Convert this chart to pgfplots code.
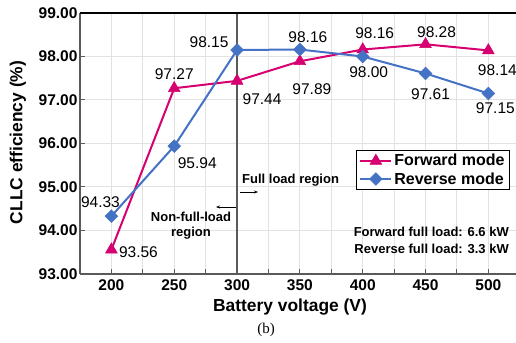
\documentclass[border=0pt]{standalone}
\usepackage{fontspec}
\setmainfont{Liberation Sans}
\newfontfamily\seriffont{Liberation Serif}
\usepackage{pgfplots}
\pgfplotsset{compat=1.18}
\usetikzlibrary{arrows.meta}

\definecolor{fwd}{RGB}{214,0,112}
\definecolor{rev}{RGB}{68,114,196}
\definecolor{gridgray}{RGB}{226,226,226}
\definecolor{spine}{RGB}{90,90,90}

\newcommand{\ticksize}{\fontsize{15.5bp}{18bp}\selectfont}
\newcommand{\notesize}{\fontsize{13bp}{15bp}\selectfont}

\begin{document}
\begin{tikzpicture}
\begin{axis}[
  at={(80bp,69bp)}, anchor=south west,
  scale only axis, width=436bp, height=261bp,
  xmin=175, xmax=522, ymin=93, ymax=99,
  axis x line*=bottom, axis y line*=left,
  axis line style={spine, line width=1.2bp, -},
  xtick={200,250,...,500}, minor xtick={225,275,...,475},
  ytick={93,94,...,99},
  grid=both,
  grid style={gridgray, line width=1bp},
  minor grid style={gridgray, line width=1bp},
  tick align=inside, major tick length=5bp, minor tick length=5bp,
  tick style={spine, line width=1bp},
  /pgf/number format/assume math mode=true,
  ticklabel style={font=\ticksize\bfseries},
  yticklabel style={/pgf/number format/fixed, /pgf/number format/fixed zerofill,
    /pgf/number format/precision=2, xshift=1bp},
  xticklabel style={/pgf/number format/1000 sep={}, yshift=-2bp},
  legend style={at={(axis description cs:0.9862,0.4751)}, anchor=north east,
    draw=black, line width=0.8bp, fill=white,
    font=\fontsize{16bp}{19bp}\selectfont\bfseries,
    inner xsep=3bp, inner ysep=2bp, row sep=1bp,
    cells={anchor=west}},
  legend image code/.code={\draw[mark repeat=2,mark phase=2,#1]
    plot coordinates {(0bp,0bp) (15.5bp,0bp) (31bp,0bp)};},
  clip=false,
]
% full-load boundary
\draw[spine, line width=1.6bp] (axis cs:300,93) -- (axis cs:300,99);
% top frame line
\draw[black, line width=1.2bp] (rel axis cs:0,1) -- (rel axis cs:1,1);

\addplot[color=fwd, line width=2bp, mark=triangle*, mark size=6.8bp,
  mark options={line width=0.5bp}]
  coordinates {(200,93.56) (250,97.27) (300,97.44) (350,97.89) (400,98.16) (450,98.28) (500,98.14)};
\addlegendentry{Forward mode}
\addplot[color=rev, line width=2bp, mark=square*, mark size=4.5bp,
  mark options={rotate=45, line width=0.5bp}]
  coordinates {(200,94.33) (250,95.94) (300,98.15) (350,98.16) (400,98.00) (450,97.61) (500,97.15)};
\addlegendentry{Reverse mode}

% value labels, forward mode
\begin{scope}[every node/.style={font=\ticksize, inner sep=0pt}]
\node[xshift=27bp, yshift=-3bp]   at (axis cs:200,93.56) {93.56};
\node[xshift=0bp, yshift=14bp]    at (axis cs:250,97.27) {97.27};
\node[xshift=25bp, yshift=-18bp]  at (axis cs:300,97.44) {97.44};
\node[xshift=12bp, yshift=-28bp]  at (axis cs:350,97.89) {97.89};
\node[xshift=12bp, yshift=16.5bp] at (axis cs:400,98.16) {98.16};
\node[xshift=11bp, yshift=12bp]   at (axis cs:450,98.28) {98.28};
\node[xshift=9bp, yshift=-20bp]   at (axis cs:500,98.14) {98.14};
% value labels, reverse mode
\node[xshift=-11bp, yshift=14bp]  at (axis cs:200,94.33) {94.33};
\node[xshift=23bp, yshift=-17bp]  at (axis cs:250,95.94) {95.94};
\node[xshift=-28bp, yshift=8bp]   at (axis cs:300,98.15) {98.15};
\node[xshift=8bp, yshift=12bp]    at (axis cs:350,98.16) {98.16};
\node[xshift=6bp, yshift=-16bp]   at (axis cs:400,98.00) {98.00};
\node[xshift=5bp, yshift=-21bp]   at (axis cs:450,97.61) {97.61};
\node[xshift=7bp, yshift=-15bp]   at (axis cs:500,97.15) {97.15};
\end{scope}
\end{axis}

% region notes
\node[font=\notesize\bfseries, anchor=west, inner sep=0pt] at (242bp,163bp) {Full load region};
\draw[-{Stealth[length=4bp,width=3bp]}, line width=0.6bp] (240bp,151bp) -- (258bp,151bp);
\node[font=\notesize\bfseries, align=center, inner sep=0pt] at (191bp,117.5bp) {Non-full-load\\region};
\draw[-{Stealth[length=4bp,width=3bp]}, line width=0.6bp] (236bp,136bp) -- (216bp,136bp);
\node[font=\notesize\bfseries, anchor=east, inner sep=0pt] at (509bp,111bp) {Forward full load: 6.6 kW};
\node[font=\notesize\bfseries, anchor=east, inner sep=0pt] at (509bp,94bp) {Reverse full load: 3.3 kW};

% axis titles and caption
\node[font=\fontsize{17.4bp}{20bp}\selectfont\bfseries, inner sep=0pt] at (290bp,36bp) {Battery voltage (V)};
\node[font=\fontsize{17.4bp}{20bp}\selectfont\bfseries, rotate=90, inner sep=0pt] at (18bp,200.5bp) {CLLC efficiency (\%)};
\node[font=\seriffont\fontsize{15bp}{18bp}\selectfont, inner sep=0pt] at (266bp,13bp) {(b)};

\pgfresetboundingbox
\path[use as bounding box] (0,0) rectangle (516bp,343bp);
\end{tikzpicture}
\end{document}
